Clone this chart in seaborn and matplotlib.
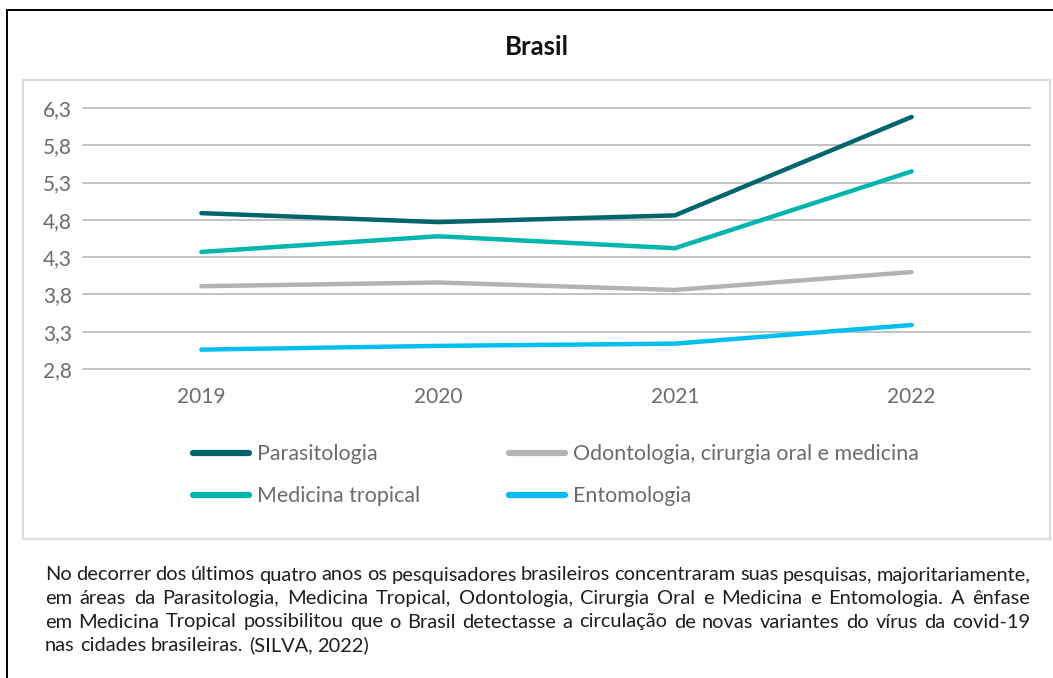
import matplotlib
matplotlib.use("Agg")
import matplotlib.pyplot as plt
import seaborn as sns
import pandas as pd
from matplotlib.lines import Line2D
from matplotlib.patches import Rectangle

# ---------------- data ----------------
years = [2019, 2020, 2021, 2022]
parasitologia = [4.89, 4.77, 4.86, 6.18]
medicina_tropical = [4.37, 4.58, 4.42, 5.45]
odontologia = [3.91, 3.96, 3.86, 4.10]
entomologia = [3.06, 3.11, 3.14, 3.39]
series_names = ["Parasitologia", "Medicina tropical",
                "Odontologia, cirurgia oral e medicina", "Entomologia"]
yticks = [2.8, 3.3, 3.8, 4.3, 4.8, 5.3, 5.8, 6.3]
ytick_labels = ["2,8", "3,3", "3,8", "4,3", "4,8", "5,3", "5,8", "6,3"]
title = "Brasil"
caption_lines = [
    "No decorrer dos últimos quatro anos os pesquisadores brasileiros concentraram suas pesquisas, majoritariamente,",
    "em áreas da Parasitologia, Medicina Tropical, Odontologia, Cirurgia Oral e Medicina e Entomologia. A ênfase",
    "em Medicina Tropical possibilitou que o Brasil detectasse a circulação de novas variantes do vírus da covid-19",
    "nas cidades brasileiras. (SILVA, 2022)",
]
colors = ["#00646E", "#00B5AE", "#B3B3B3", "#00BEF2"]

values = [parasitologia, medicina_tropical, odontologia, entomologia]
df = pd.DataFrame({
    "ano": [y for _ in series_names for y in years],
    "valor": [v for vals in values for v in vals],
    "serie": [n for n in series_names for _ in years],
})

# ---------------- style ----------------
sns.set_theme(style="white")
plt.rcParams["font.family"] = ["Lato", "DejaVu Sans"]

W, H = 1053, 678
fig = plt.figure(figsize=(W / 100, H / 100), dpi=100)
fig.patch.set_facecolor("white")

def fx(px):
    return px / W

def fy(py):
    return 1 - py / H

ax = fig.add_axes([fx(83), fy(369), fx(1030) - fx(83), fy(108) - fy(369)])
ax.set_facecolor("none")

sns.lineplot(data=df, x="ano", y="valor", hue="serie", hue_order=series_names,
             palette=dict(zip(series_names, colors)), linewidth=3.2,
             sort=False, legend=False, ax=ax, zorder=3)
for ln in ax.get_lines():
    ln.set_solid_capstyle("round")
    ln.set_solid_joinstyle("round")
    ln.set_clip_on(False)

ax.set_xlim(2018.5, 2022.5)
ax.set_ylim(2.8, 6.3)
ax.set_xticks(years)
ax.set_xticklabels([str(y) for y in years])
ax.set_yticks(yticks)
ax.set_yticklabels(ytick_labels)
ax.tick_params(axis="both", length=0, labelsize=15, labelcolor="#6b6b6b")
ax.tick_params(axis="x", pad=13)
ax.tick_params(axis="y", pad=8)
ax.set_xlabel("")
ax.set_ylabel("")
for s in ax.spines.values():
    s.set_visible(False)
for yv in yticks:
    ax.axhline(yv, color="#BDBDBD", linewidth=1.3, zorder=1, clip_on=False)

# legend
handles = [Line2D([0], [0], color=c, linewidth=4.5, solid_capstyle="round") for c in colors]
leg = fig.legend(handles, series_names, ncol=2, loc="upper left",
                 bbox_to_anchor=(fx(193), fy(444)), frameon=False,
                 fontsize=15.4, labelcolor="#6b6b6b", handlelength=2.6,
                 handletextpad=0.4, columnspacing=4.15, labelspacing=1.05,
                 borderaxespad=0, borderpad=0)

# title
fig.text(fx(537), fy(47), title, ha="center", va="center", fontsize=18.5,
         fontweight="bold", color="#111111")

# frames
fig.add_artist(Line2D([fx(7), fx(1053)], [fy(10), fy(10)], color="black", linewidth=1.4))
fig.add_artist(Line2D([fx(7), fx(7)], [fy(10), fy(678)], color="black", linewidth=1.4))
fig.add_artist(Rectangle((fx(23), fy(539)), fx(1050) - fx(23), fy(80) - fy(539),
                         fill=False, edgecolor="#DCDCDC", linewidth=1.6))

# caption, justified
renderer = fig.canvas.get_renderer()
left_px, right_px = 45, 1030
line_y = [575, 598.5, 622, 645.5]
cap_kw = dict(fontsize=14.4, color="#1e1e1e", va="center", ha="left")
for i, (line, ypx) in enumerate(zip(caption_lines, line_y)):
    words = line.split(" ")
    texts = [fig.text(0, fy(ypx), w, **cap_kw) for w in words]
    widths = [t.get_window_extent(renderer).width for t in texts]
    sp = fig.text(0, 0, "a a", **cap_kw)
    a = fig.text(0, 0, "aa", **cap_kw)
    nat_gap = sp.get_window_extent(renderer).width - a.get_window_extent(renderer).width
    sp.remove(); a.remove()
    if i < len(caption_lines) - 1:
        gap = (right_px - left_px - sum(widths)) / (len(words) - 1)
    else:
        gap = nat_gap
    x = left_px
    for t, w in zip(texts, widths):
        t.set_x(fx(x))
        x += w + gap

fig.savefig("out.png", dpi=100, facecolor="white")
